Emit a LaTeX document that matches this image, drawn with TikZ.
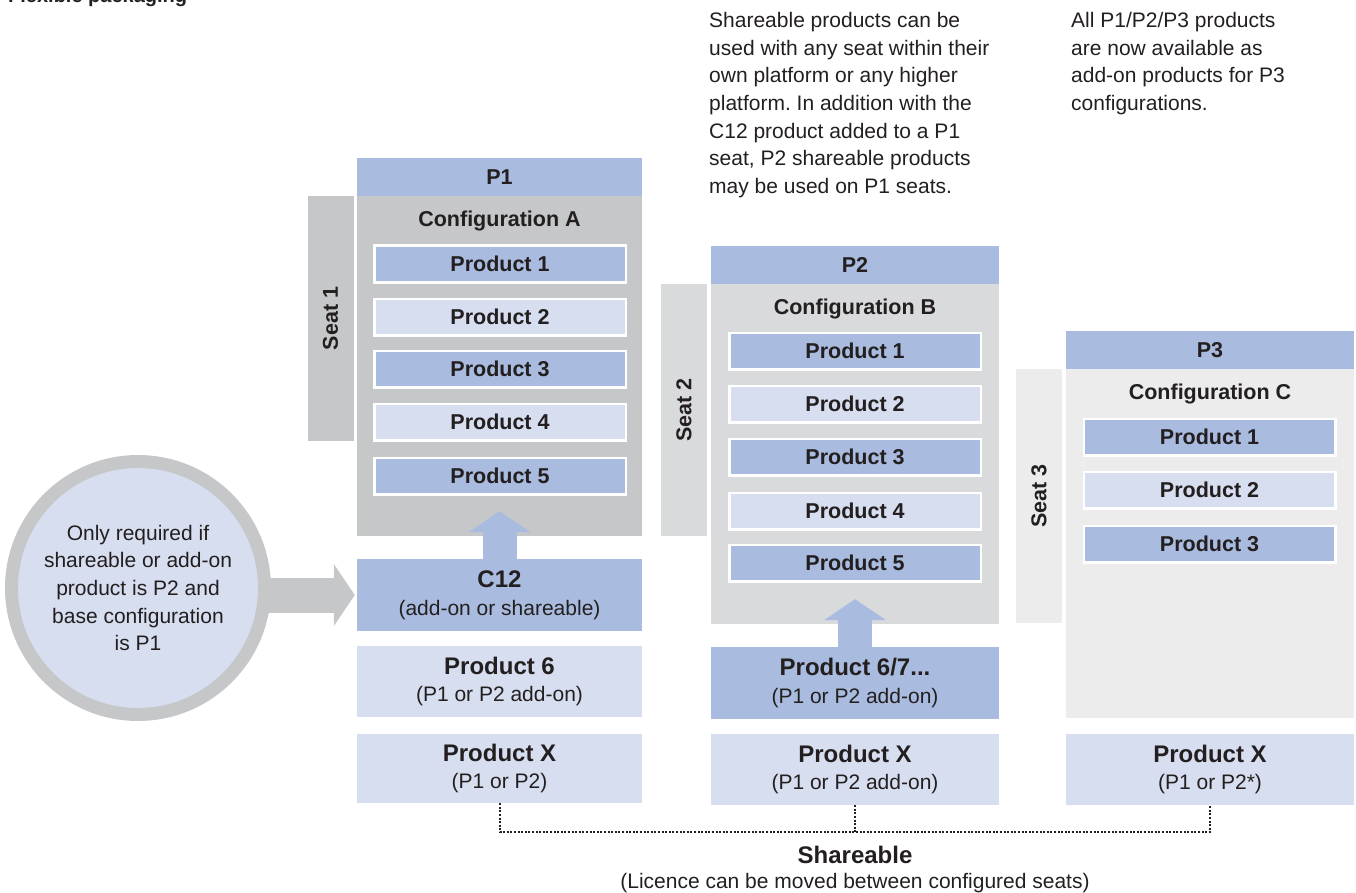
\documentclass[tikz,border=0pt]{standalone}
\usepackage{fontspec}
\setmainfont{Liberation Sans}
\usetikzlibrary{arrows.meta,calc}
\definecolor{pdark}{HTML}{A9BCDF}
\definecolor{plight}{HTML}{D7DEEF}
\definecolor{greyA}{HTML}{C6C7C9}
\definecolor{greyB}{HTML}{D9DADC}
\definecolor{greyC}{HTML}{ECECEC}
\definecolor{ink}{HTML}{231F20}
\newcommand{\txtfont}{\fontsize{21}{27.7}\selectfont}
\newcommand{\labfont}{\fontsize{21.5}{26}\selectfont\bfseries}
\newcommand{\bigfont}{\fontsize{24}{28}\selectfont\bfseries}
\frenchspacing
\begin{document}
\begin{tikzpicture}[x=1pt,y=-1pt,
    every node/.style={inner sep=0pt,text=ink},
    hdr/.style={fill=pdark,minimum height=38,font=\labfont},
    seat/.style={rotate=90,minimum height=46,font=\labfont},
    cfg/.style={minimum height=340},
    prod/.style={draw=white,line width=2.5pt,minimum width=251.5,minimum height=36.5,font=\labfont},
    addon/.style={minimum height=71,align=center,font=\txtfont},
    blockarr/.style={line width=34pt,-{Triangle[width=62pt,length=21pt,line width=0pt]}},
    shared/.style={draw=ink,line width=2pt,dash pattern=on 2pt off 1.6pt}]
    \useasboundingbox (0,0) rectangle (1356,893);
    \node[anchor=base west,font=\fontsize{20}{24}\selectfont\bfseries] (title) at (8,3) {Flexible packaging};
    % notes on top
    \node[anchor=north west,align=left,font=\txtfont] (note1) at (709,12) {Shareable products can be\\used with any seat within their\\own platform or any higher\\platform. In addition with the\\C12 product added to a P1\\seat, P2 shareable products\\may be used on P1 seats.};
    \node[anchor=north west,align=left,font=\txtfont] (note2) at (1071,12) {All P1/P2/P3 products\\are now available as\\add-on products for P3\\configurations.};
    % P1
    \node[hdr,minimum width=285] (p1) at (499.5,177) {P1};
    \node[cfg,fill=greyA,minimum width=285] (cfgA) at (499.5,366) {};
    \node[seat,fill=greyA,minimum width=245] (s1) at (330.5,318.5) {Seat 1};
    \node[font=\labfont] (cfgAt) at (499.5,221) {Configuration A};
    \foreach \y/\c [count=\i] in {264/pdark,317/plight,369/pdark,422/plight,476/pdark}
        \node[prod,fill=\c] (a\i) at (500,\y) {Product \i};
    \node[addon,fill=pdark,minimum width=285,minimum height=72] (c12) at (499.5,595) {{\bigfont C12}\\(add-on or shareable)};
    \node[addon,fill=plight,minimum width=285] (p6) at (499.5,681.5) {{\bigfont Product 6}\\(P1 or P2 add-on)};
    \node[addon,fill=plight,minimum width=285,minimum height=69] (xa) at (499.5,768.5) {{\bigfont Product X}\\(P1 or P2)};
    % P2
    \node[hdr,minimum width=288] (p2) at (855,265) {P2};
    \node[cfg,fill=greyB,minimum width=288] (cfgB) at (855,454) {};
    \node[seat,fill=greyB,minimum width=252] (s2) at (684,410) {Seat 2};
    \node[font=\labfont] (cfgBt) at (855,309) {Configuration B};
    \foreach \y/\c [count=\i] in {351/pdark,404/plight,457/pdark,511/plight,563/pdark}
        \node[prod,fill=\c] (b\i) at (855,\y) {Product \i};
    \node[addon,fill=pdark,minimum width=288,minimum height=72] (p67) at (855,683) {{\bigfont Product 6/7...}\\(P1 or P2 add-on)};
    \node[addon,fill=plight,minimum width=288] (xb) at (855,769.5) {{\bigfont Product X}\\(P1 or P2 add-on)};
    % P3
    \node[hdr,minimum width=288] (p3) at (1210,350) {P3};
    \node[cfg,fill=greyC,minimum width=288,minimum height=349] (cfgC) at (1210,543.5) {};
    \node[seat,fill=greyC,minimum width=254] (s3) at (1039,496) {Seat 3};
    \node[font=\labfont] (cfgCt) at (1210,394) {Configuration C};
    \foreach \y/\c [count=\i] in {437/pdark,490/plight,544/pdark}
        \node[prod,fill=\c] (c\i) at (1209.5,\y) {Product \i};
    \node[addon,fill=plight,minimum width=288] (xc) at (1210,769.5) {{\bigfont Product X}\\(P1 or P2*)};
    % circle note
    \node[circle,fill=plight,draw=greyA,line width=13pt,minimum size=253,align=center,font=\txtfont] (circ) at (138,588) {Only required if\\shareable or add-on\\product is P2 and\\base configuration\\is P1};
    % arrows
    \draw[blockarr,draw=greyA,line width=35pt] ([xshift=-8pt]circ.east |- c12.west) -- ([xshift=-2pt]c12.west);
    \draw[blockarr,draw=pdark] (c12.north) -- ($(cfgA.south)+(0,-25)$);
    \draw[blockarr,draw=pdark] (p67.north) -- ($(cfgB.south)+(0,-25)$);
    % shareable
    \coordinate (shl) at (855,832);
    \draw[shared] (xa.south) -- (xa.south |- shl) -| (xc.south);
    \draw[shared] (xb.south) -- (xb.south |- shl);
    \node[font=\bigfont] (shr) at (855,855) {Shareable};
    \node[font=\txtfont] (lic) at (855,883) {(Licence can be moved between configured seats)};
\end{tikzpicture}
\end{document}
